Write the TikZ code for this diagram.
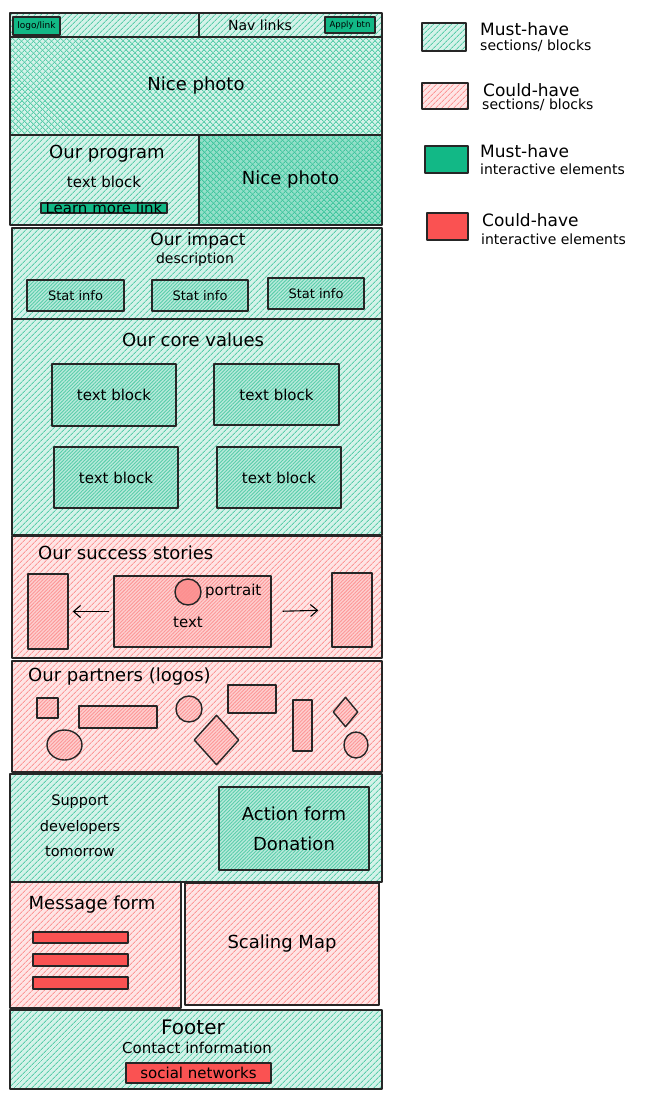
\documentclass[tikz,border=0pt]{standalone}
\usepackage{fontspec}
\setmainfont{DejaVu Sans}
\usetikzlibrary{patterns.meta,arrows.meta,shapes.geometric}
\definecolor{musthave}{HTML}{12B886}
\definecolor{couldhave}{HTML}{FA5252}

\begin{document}
\begin{tikzpicture}[x=1pt,y=-1pt]

    \tikzset{
        edge/.style={draw=black!85,line width=1.4pt,line join=round},
        box/.style={rectangle,inner sep=0pt},
        greenfill/.style={edge,preaction={fill=musthave!18},pattern={Lines[angle=45,distance=4pt,line width=0.9pt]},pattern color=musthave!70},
        redfill/.style={edge,preaction={fill=couldhave!15},pattern={Lines[angle=45,distance=4pt,line width=0.9pt]},pattern color=couldhave!60},
        greenblock/.style={edge,preaction={fill=musthave!30},pattern={Lines[angle=45,distance=2.5pt,line width=0.9pt]},pattern color=musthave!70},
        redblock/.style={edge,preaction={fill=couldhave!28},pattern={Lines[angle=45,distance=2.5pt,line width=0.9pt]},pattern color=couldhave!60},
        photofill/.style={greenfill,preaction={pattern={Lines[angle=-45,distance=4pt,line width=0.9pt]},pattern color=musthave!70}},
        photodark/.style={edge,preaction={fill=musthave!45},preaction={pattern={Lines[angle=-45,distance=4pt,line width=0.9pt]},pattern color=musthave!80},pattern={Lines[angle=45,distance=4pt,line width=0.9pt]},pattern color=musthave!80},
        greensolid/.style={edge,fill=musthave},
        redsolid/.style={edge,fill=couldhave},
        ttl/.style={inner sep=1pt,font=\fontsize{18}{22}\selectfont},
        txt/.style={inner sep=1pt,font=\fontsize{15}{18}\selectfont},
        sml/.style={inner sep=1pt,font=\fontsize{9}{11}\selectfont},
        legt/.style={inner sep=0pt,anchor=west,font=\fontsize{17}{20}\selectfont},
        legs/.style={inner sep=0pt,anchor=west,font=\fontsize{14}{16}\selectfont},
        arr/.style={-{Straight Barb[length=7pt,width=12pt]},line width=1.1pt}
    }
    \useasboundingbox (0,0) rectangle (646,1100);

    \node[box,greenfill,minimum width=189pt,minimum height=24pt] (navl) at (104.5,25) {};
    \node[box,greenfill,minimum width=183pt,minimum height=24pt] (navr) at (290.5,25) {};
    \node[box,greensolid,minimum width=47pt,minimum height=18pt,sml] (logo) at (36.5,26) {logo/link};
    \node[box,greensolid,minimum width=50pt,minimum height=16pt,sml,font=\fontsize{8.5}{10}\selectfont] (apply) at (350,25) {Apply btn};
    \node[txt,font=\fontsize{14}{16}\selectfont] (navlinks) at (260,25) {Nav links};

    \node[box,photofill,minimum width=372pt,minimum height=98pt,ttl] (photoa) at (196,86) {Nice photo};

    \node[box,greenfill,minimum width=189pt,minimum height=90pt] (program) at (104.5,180) {};
    \node[box,photodark,minimum width=183pt,minimum height=90pt,ttl] (photob) at (290.5,180) {Nice photo};
    \node[ttl] (programt) at (107,154) {Our program};
    \node[txt] (programd) at (104,182) {text block};
    \node[box,greensolid,minimum width=126pt,minimum height=10pt] (learn) at (104,208) {};
    \node[txt] (learnt) at (learn) {Learn more link};

    \node[box,greenfill,minimum width=370pt,minimum height=91pt] (impact) at (197,273.5) {};
    \node[ttl,font=\fontsize{17}{20}\selectfont] (impactt) at (198,241) {Our impact};
    \node[txt,font=\fontsize{14}{16}\selectfont] (impactd) at (195,260) {description};
    \node[box,greenblock,minimum width=97pt,minimum height=31pt,txt,font=\fontsize{13}{15}\selectfont] (stata) at (75.5,295.5) {Stat info};
    \node[box,greenblock,minimum width=96pt,minimum height=31pt,txt,font=\fontsize{13}{15}\selectfont] (statb) at (200,295.5) {Stat info};
    \node[box,greenblock,minimum width=96pt,minimum height=31pt,txt,font=\fontsize{13}{15}\selectfont] (statc) at (316,293.5) {Stat info};

    \node[box,greenfill,minimum width=370pt,minimum height=216pt] (core) at (197,427) {};
    \node[ttl] (coret) at (193,340) {Our core values};
    \node[box,greenblock,minimum width=124pt,minimum height=62pt,txt] (blocka) at (114,395) {text block};
    \node[box,greenblock,minimum width=125pt,minimum height=61pt,txt] (blockb) at (276.5,394.5) {text block};
    \node[box,greenblock,minimum width=124pt,minimum height=61pt,txt] (blockc) at (116,477.5) {text block};
    \node[box,greenblock,minimum width=124pt,minimum height=61pt,txt] (blockd) at (279,477.5) {text block};

    \node[box,redfill,minimum width=370pt,minimum height=122pt] (stories) at (197,597) {};
    \node[ttl,anchor=west] (storiest) at (37,553) {Our success stories};
    \node[box,redblock,minimum width=40pt,minimum height=75pt] (storyl) at (48,611.5) {};
    \node[box,redblock,minimum width=157pt,minimum height=71pt] (storyc) at (192.5,611.5) {};
    \node[box,redblock,minimum width=40pt,minimum height=74pt] (storyr) at (352,610) {};
    \node[circle,redblock,preaction={fill=couldhave!65},minimum size=26pt,inner sep=0pt] (portrait) at (188,592) {};
    \node[txt,anchor=west] (portraitt) at (204,591) {portrait};
    \node[txt] (storytext) at (188,622) {text};
    \begin{scope}[every path/.style={arr}]
        \draw[shorten <=4pt,shorten >=4pt] (storyc.west) -- (storyl.east);
        \draw[shorten <=11pt,shorten >=13pt] (storyc.east) -- (storyr.west);
    \end{scope}

    \node[box,redfill,minimum width=370pt,minimum height=111pt] (partners) at (197,716.5) {};
    \node[ttl,anchor=west] (partnerst) at (27,677) {Our partners (logos)};
    \node[box,redblock,minimum width=21pt,minimum height=20pt] (logoa) at (47.5,708) {};
    \node[box,redblock,minimum width=78pt,minimum height=22pt] (logob) at (118,717) {};
    \node[circle,redblock,minimum size=26pt,inner sep=0pt] (logoc) at (189,709) {};
    \node[box,redblock,minimum width=48pt,minimum height=28pt] (logod) at (252,699) {};
    \node[box,redblock,minimum width=19pt,minimum height=51pt] (logoe) at (302.5,725.5) {};
    \node[diamond,redblock,minimum width=25pt,minimum height=30pt,inner sep=0pt] (logof) at (345.5,712) {};
    \node[ellipse,redblock,minimum width=35pt,minimum height=30pt,inner sep=0pt] (logog) at (64.5,745) {};
    \node[diamond,redblock,minimum width=45pt,minimum height=50pt,inner sep=0pt] (logoh) at (216.5,740) {};
    \node[ellipse,redblock,minimum width=24pt,minimum height=26pt,inner sep=0pt] (logoi) at (356,745) {};

    \node[box,greenfill,minimum width=372pt,minimum height=108pt] (support) at (196,828) {};
    \node[txt,align=center,font=\fontsize{14.5}{25.5}\selectfont] (supportt) at (80,826) {Support\\developers\\tomorrow};
    \node[box,greenblock,minimum width=150pt,minimum height=83pt,align=center,font=\fontsize{18}{30}\selectfont] (action) at (294,828.5) {Action form\\Donation};

    \node[box,redfill,minimum width=171pt,minimum height=126pt] (message) at (95.5,945) {};
    \node[ttl] (messaget) at (92,905) {Message form};
    \node[box,redsolid,minimum width=95pt,minimum height=11pt] (fielda) at (80.5,937.5) {};
    \node[box,redsolid,minimum width=95pt,minimum height=12pt] (fieldb) at (80.5,960) {};
    \node[box,redsolid,minimum width=95pt,minimum height=12pt] (fieldc) at (80.5,983) {};
    \node[box,redfill,minimum width=194pt,minimum height=122pt,ttl] (map) at (282,944) {Scaling Map};

    \node[box,greenfill,minimum width=372pt,minimum height=79pt] (footer) at (196,1049.5) {};
    \node[ttl,font=\fontsize{20}{24}\selectfont] (footert) at (193,1027) {Footer};
    \node[txt] (contact) at (197,1048) {Contact information};
    \node[box,redsolid,minimum width=145pt,minimum height=20pt,txt] (social) at (198.5,1073) {social networks};

    \node[box,greenfill,minimum width=44pt,minimum height=28pt] (lega) at (444,37) {};
    \node[legt] (legat) at (480,29) {Must-have};
    \node[legs] (legas) at (480,46) {sections/ blocks};
    \node[box,redfill,minimum width=46pt,minimum height=26pt] (legb) at (445,96) {};
    \node[legt] (legbt) at (483,90) {Could-have};
    \node[legs] (legbs) at (482,105) {sections/ blocks};
    \node[box,greensolid,minimum width=43pt,minimum height=27pt] (legc) at (446.5,159.5) {};
    \node[legt] (legct) at (480,151) {Must-have};
    \node[legs] (legcs) at (480,169) {interactive elements};
    \node[box,redsolid,minimum width=41pt,minimum height=27pt] (legd) at (447.5,226.5) {};
    \node[legt] (legdt) at (482,220) {Could-have};
    \node[legs] (legds) at (481,239) {interactive elements};
\end{tikzpicture}
\end{document}
